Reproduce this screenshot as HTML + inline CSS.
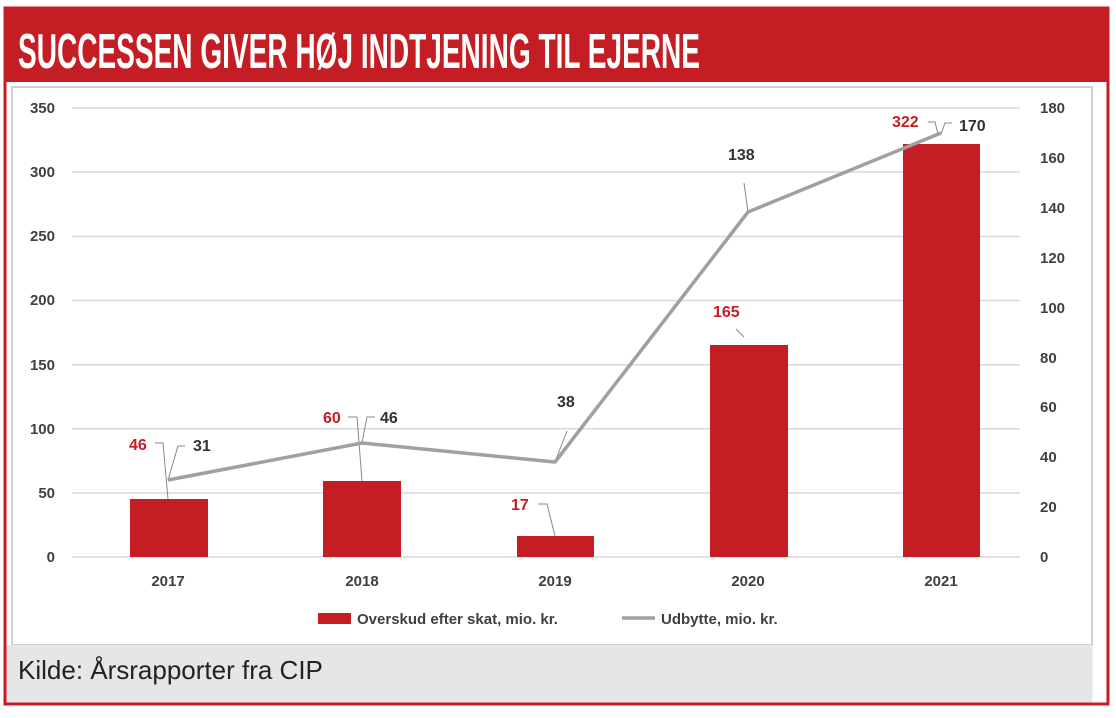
<!DOCTYPE html>
<html><head><meta charset="utf-8"><style>
body{margin:0;background:#fff;width:1116px;height:713px;overflow:hidden;}
svg text{font-family:"Liberation Sans",sans-serif;}
</style></head><body>
<svg width="1116" height="713" viewBox="0 0 1116 713">
<rect x="5" y="8" width="1103" height="696" fill="#fff" stroke="#c41e24" stroke-width="3"/>
<rect x="5" y="8" width="1103" height="74" fill="#c41e24"/>
<text x="18" y="68" fill="#fff" font-size="49" font-weight="bold" textLength="682" lengthAdjust="spacingAndGlyphs" style="font-family:'Liberation Sans Narrow','Liberation Sans',sans-serif">SUCCESSEN GIVER HØJ INDTJENING TIL EJERNE</text>
<rect x="12" y="87" width="1080" height="558" fill="#fff" stroke="#d0d0d0" stroke-width="2"/>
<rect x="6.5" y="645" width="1086" height="57.5" fill="#e6e6e8"/>
<text x="18" y="679" font-size="26" fill="#222">Kilde: Årsrapporter fra CIP</text>
<g stroke="#d9d9d9" stroke-width="1.5">
<line x1="72" y1="108" x2="1020" y2="108"/><line x1="72" y1="172" x2="1020" y2="172"/>
<line x1="72" y1="236.5" x2="1020" y2="236.5"/><line x1="72" y1="300.5" x2="1020" y2="300.5"/>
<line x1="72" y1="364.7" x2="1020" y2="364.7"/><line x1="72" y1="428.8" x2="1020" y2="428.8"/>
<line x1="72" y1="493" x2="1020" y2="493"/><line x1="72" y1="557" x2="1020" y2="557"/>
</g>
<g font-size="15" font-weight="bold" fill="#404040" text-anchor="end">
<text x="55" y="113">350</text><text x="55" y="177">300</text><text x="55" y="241">250</text>
<text x="55" y="305">200</text><text x="55" y="370">150</text><text x="55" y="434">100</text>
<text x="55" y="498">50</text><text x="55" y="562">0</text>
</g>
<g font-size="15" font-weight="bold" fill="#404040">
<text x="1040" y="113">180</text><text x="1040" y="163">160</text><text x="1040" y="213">140</text>
<text x="1040" y="263">120</text><text x="1040" y="313">100</text><text x="1040" y="363">80</text>
<text x="1040" y="412">60</text><text x="1040" y="462">40</text><text x="1040" y="512">20</text><text x="1040" y="562">0</text>
</g>
<g fill="#c41e24">
<rect x="130" y="499" width="78" height="58"/><rect x="323" y="481" width="78" height="76"/>
<rect x="517" y="536" width="77" height="21"/><rect x="710" y="345" width="78" height="212"/>
<rect x="903" y="144" width="77" height="413"/>
</g>
<g stroke="#888" stroke-width="1" fill="none">
<path d="M155,443 H163 L168,499"/><path d="M185,446 H178 L168,480"/>
<path d="M348,417 H357 L362,481"/><path d="M375,417 H367 L362,443"/>
<path d="M538,504 H547 L555,536"/><path d="M567,431 L555,462"/>
<path d="M744,337 L736,329"/><path d="M744,183 L748,212"/>
<path d="M928,122 H935 L938,134"/><path d="M952,123 H945 L941,134"/>
</g>
<polyline points="168,480 362,443 555,462 748,212 941,133" fill="none" stroke="#a0a0a0" stroke-width="3.5" stroke-linejoin="round"/>
<g font-size="16" font-weight="bold" fill="#c41e24">
<text x="129" y="450">46</text><text x="323" y="423">60</text><text x="511" y="510">17</text>
<text x="713" y="317">165</text><text x="892" y="127">322</text>
</g>
<g font-size="16" font-weight="bold" fill="#333">
<text x="193" y="451">31</text><text x="380" y="423">46</text><text x="557" y="407">38</text>
<text x="728" y="160">138</text><text x="959" y="131">170</text>
</g>
<g font-size="15" font-weight="bold" fill="#404040" text-anchor="middle">
<text x="168" y="586">2017</text><text x="362" y="586">2018</text><text x="555" y="586">2019</text>
<text x="748" y="586">2020</text><text x="941" y="586">2021</text>
</g>
<rect x="318" y="613" width="33" height="11" fill="#c41e24"/>
<text x="357" y="624" font-size="15" font-weight="bold" fill="#404040">Overskud efter skat, mio. kr.</text>
<line x1="622" y1="618" x2="655" y2="618" stroke="#a0a0a0" stroke-width="3.5"/>
<text x="661" y="624" font-size="15" font-weight="bold" fill="#404040">Udbytte, mio. kr.</text>
</svg>
</body></html>
